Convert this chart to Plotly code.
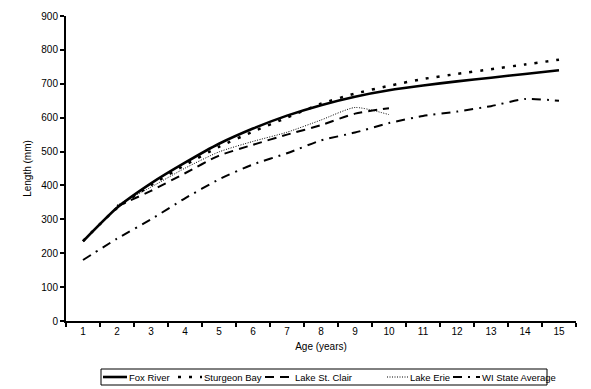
import plotly.graph_objects as go

ages = [str(a) for a in range(1, 16)]

fox_river = [235, 334, 406, 467, 523, 568, 606, 637, 662, 681, 695, 707, 718, 729, 740]
sturgeon_bay = [236, 333, 401, 460, 514, 559, 600, 641, 671, 694, 714, 729, 743, 757, 771]
st_clair_ages = [str(a) for a in range(2, 11)]
lake_st_clair = [338, 384, 436, 488, 520, 550, 578, 612, 628]
erie_ages = [str(a) for a in range(2, 11)]
lake_erie = [342, 395, 451, 499, 530, 557, 593, 630, 609]
wi_state_average = [180, 243, 300, 362, 418, 462, 495, 533, 556, 584, 605, 618, 634, 655, 650]

y_ticks = list(range(0, 901, 100))

series_names = ["Fox River", "Sturgeon Bay", "Lake St. Clair", "Lake Erie", "WI State Average"]

font = "Arial, Liberation Sans, sans-serif"

styles = {
    "Fox River": dict(color="black", width=2.6, dash="solid"),
    "Sturgeon Bay": dict(color="black", width=2.5, dash="3px,8px"),
    "Lake St. Clair": dict(color="black", width=2, dash="9px,6px"),
    "Lake Erie": dict(color="black", width=1, dash="1px,1.5px"),
    "WI State Average": dict(color="black", width=2, dash="9px,6px,2px,6px"),
}

fig = go.Figure()
series = [
    (ages, fox_river, "Fox River"),
    (ages, sturgeon_bay, "Sturgeon Bay"),
    (st_clair_ages, lake_st_clair, "Lake St. Clair"),
    (erie_ages, lake_erie, "Lake Erie"),
    (ages, wi_state_average, "WI State Average"),
]
for xs, ys, nm in series:
    st = styles[nm]
    fig.add_trace(go.Scatter(x=xs, y=ys, name=nm, mode="lines", showlegend=False,
                             line=dict(color=st["color"], width=st["width"], dash=st["dash"],
                                       shape="spline", smoothing=0.6)))

# plot area geometry (pixels)
L, R, T, B = 66, 15, 16, 68
W, H = 591, 389
pw, ph = W - L - R, H - T - B


def px_x(x):
    return (x - L) / pw


def px_y(y):
    return (H - B - y) / ph


# manual legend (box, samples, labels)
shapes = [dict(type="rect", xref="paper", yref="paper",
               x0=px_x(101), x1=px_x(547), y0=px_y(385), y1=px_y(369),
               line=dict(color="black", width=1), fillcolor="white", layer="above")]
annotations = []
sample_x = [(103, 127), (178, 202), (265, 293), (387, 408), (453, 480)]
text_x = [128, 203, 294, 409, 481]
ly = 377
for nm, (a, b), tx in zip(series_names, sample_x, text_x):
    st = styles[nm]
    shapes.append(dict(type="line", xref="paper", yref="paper",
                       x0=px_x(a), x1=px_x(b), y0=px_y(ly), y1=px_y(ly),
                       line=dict(color=st["color"], width=st["width"], dash=st["dash"]),
                       layer="above"))
    annotations.append(dict(text=nm, xref="paper", yref="paper", x=px_x(tx), y=px_y(ly),
                            xanchor="left", yanchor="middle", showarrow=False,
                            borderpad=0, font=dict(size=9.5, family=font, color="black")))

fig.update_layout(
    width=W, height=H,
    margin=dict(l=L, r=R, t=T, b=B, autoexpand=False),
    paper_bgcolor="white", plot_bgcolor="white",
    font=dict(family=font, size=10, color="black"),
    showlegend=False,
    shapes=shapes,
    annotations=annotations,
    xaxis=dict(type="category", categoryorder="array", categoryarray=ages,
               range=[-0.5, 14.5], tickson="boundaries",
               showline=True, linecolor="black", linewidth=2, mirror=False,
               ticks="outside", ticklen=4, tickcolor="black", tickwidth=1.5,
               showgrid=False, zeroline=False, automargin=False,
               title=dict(text="Age (years)", font=dict(size=10), standoff=7)),
    yaxis=dict(range=[0, 900], tickvals=y_ticks,
               showline=True, linecolor="black", linewidth=2,
               ticks="outside", ticklen=4, tickcolor="black", tickwidth=1.5,
               showgrid=False, zeroline=False, automargin=False,
               title=dict(text="Length (mm)", font=dict(size=10), standoff=8)),
)

fig.write_html("out.html", config={"displayModeBar": False},
               post_script="document.body.style.margin='0';")
